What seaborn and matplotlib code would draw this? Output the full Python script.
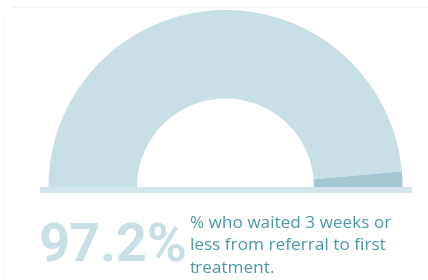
import matplotlib
matplotlib.use("Agg")
import matplotlib.pyplot as plt
import seaborn as sns
from matplotlib.patches import Rectangle

sns.set_theme(style="white")
plt.rcParams['font.family'] = ['Open Sans', 'DejaVu Sans']

# Data
labels = ["Waited 3 weeks or less", "Waited longer"]
values = [97.2, 2.8]
headline = "97.2%"
caption_lines = ["% who waited 3 weeks or", "less from referral to first", "treatment."]

light = "#c9dfe6"
dark = "#a3c8d2"
text_col = "#4a97a8"

W, H = 428, 280
fig = plt.figure(figsize=(W / 100, H / 100), dpi=100)
ax = fig.add_axes([0, 0, 1, 1])

cx, cy = 225.5, H - 187
R, width = 177, 88.5
total = sum(values)
ax.pie(values + [total], colors=[light, dark, "none"], startangle=180,
       counterclock=False, center=(cx, cy), radius=R,
       wedgeprops=dict(width=width, linewidth=0))

ax.add_patch(Rectangle((40, H - 193), 372, 6, color="#d3e5eb", lw=0))

# faint frame lines
ax.plot([12, 428], [H - 7, H - 7], color="#f4f4f4", lw=1)
ax.plot([4, 4], [H - 20, 0], color="#f6f6f6", lw=1)

ax.text(39, H - 262, headline, fontsize=39, fontweight="bold", color=light,
        family=["Roboto", "DejaVu Sans"], ha="left", va="baseline")
for i, line in enumerate(caption_lines):
    ax.text(190, H - (222 + 22.5 * i), line, fontsize=12.3, color=text_col,
            ha="left", va="center_baseline")

ax.set_xlim(0, W)
ax.set_ylim(0, H)
ax.set_aspect("auto")
ax.axis("off")
fig.savefig("out.png", dpi=100)
